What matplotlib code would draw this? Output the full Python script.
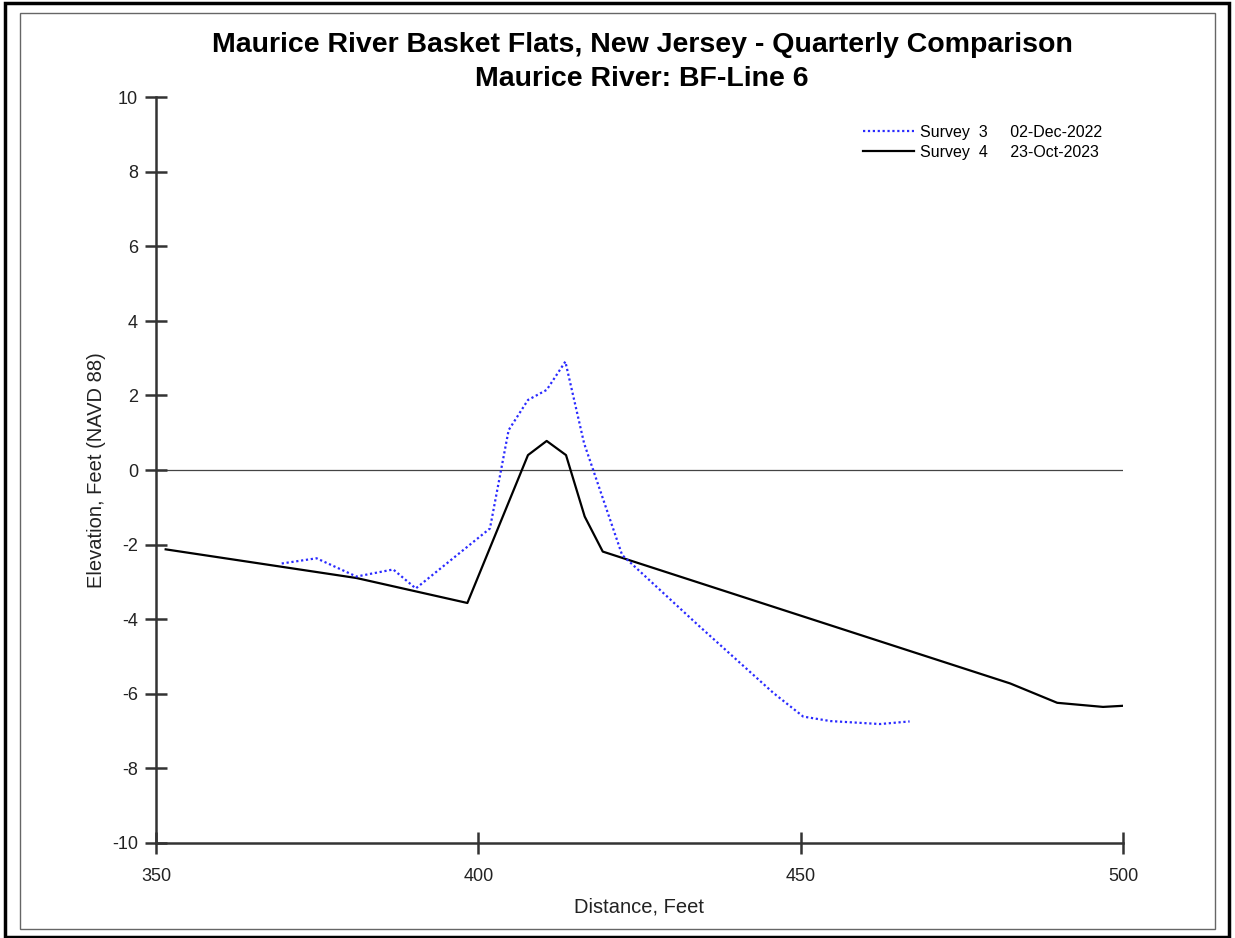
import numpy as np
import matplotlib
matplotlib.use("Agg")
import matplotlib.pyplot as plt
from matplotlib.patches import Rectangle

plt.rcParams["font.family"] = ["Liberation Sans", "DejaVu Sans"]
plt.rcParams["axes.unicode_minus"] = False

## Data
s3_dist = [369.5, 374.9, 381.1, 386.8, 390.3, 401.8, 404.7, 407.7, 410.6, 413.5,
           416.4, 422.3, 434.0, 445.8, 450.4, 454.6, 462.3, 466.9]
s3_elev = [-2.51, -2.37, -2.86, -2.67, -3.18, -1.57, 1.07, 1.88, 2.15, 2.91,
           0.72, -2.28, -4.15, -5.99, -6.62, -6.74, -6.82, -6.75]
s4_dist = [351.5, 381.1, 398.3, 407.7, 410.6, 413.6, 416.5, 419.3, 482.5, 489.8, 496.9, 500.0]
s4_elev = [-2.13, -2.90, -3.57, 0.40, 0.78, 0.40, -1.25, -2.19, -5.73, -6.25, -6.36, -6.33]
s3_label = "Survey  3     02-Dec-2022"
s4_label = "Survey  4     23-Oct-2023"
xticks = [350, 400, 450, 500]
yticks = list(range(-10, 11, 2))

fig = plt.figure(figsize=(12.35, 9.38), dpi=100)
ax = fig.add_axes([156 / 1235, 1 - 842.5 / 938, (1123 - 156) / 1235, (842.5 - 97.5) / 938])

ax.axhline(0, color="#444444", lw=0.9, zorder=1)
ax.plot(s3_dist, s3_elev, color="#2a2aff", lw=1.6, linestyle=(0, (1, 1.2)), label=s3_label, zorder=3)
ax.plot(s4_dist, s4_elev, color="black", lw=1.6, linestyle="-", label=s4_label, zorder=2)

ax.set_xlim(350, 500)
ax.set_ylim(-10, 10)
ax.set_xticks(xticks)
ax.set_yticks(yticks)
for s in ["top", "right"]:
    ax.spines[s].set_visible(False)
for s in ["left", "bottom"]:
    ax.spines[s].set_color("#333333")
    ax.spines[s].set_linewidth(1.8)
ax.tick_params(axis="both", direction="inout", length=16, width=1.8, color="#333333",
               labelsize=13, labelcolor="#222222")
ax.tick_params(axis="y", pad=5)
ax.tick_params(axis="x", pad=10)

ax.set_xlabel("Distance, Feet", fontsize=14.5, color="#222222", labelpad=9)
ax.set_ylabel("Elevation, Feet (NAVD 88)", fontsize=14.5, color="#222222", labelpad=4)

fig.text(0.52, 1 - 45 / 938, "Maurice River Basket Flats, New Jersey - Quarterly Comparison",
         ha="center", va="center", fontsize=20.5, fontweight="bold")
fig.text(0.52, 1 - 79 / 938, "Maurice River: BF-Line 6",
         ha="center", va="center", fontsize=20.5, fontweight="bold")

leg = ax.legend(loc="upper left", bbox_to_anchor=(855 / 1235, 1 - 117 / 938),
                bbox_transform=fig.transFigure, frameon=False, fontsize=11.5,
                handlelength=3.2, handletextpad=0.35, labelspacing=0.3, borderpad=0)

## Double frame around the figure
fig.patches.append(Rectangle((5 / 1235, 1 / 938), 1224 / 1235, 933.5 / 938, transform=fig.transFigure,
                             fill=False, edgecolor="black", lw=2.5))
fig.patches.append(Rectangle((20 / 1235, 9 / 938), 1195 / 1235, 915.5 / 938, transform=fig.transFigure,
                             fill=False, edgecolor="#666666", lw=1.0))

fig.savefig("out.png", dpi=100)
